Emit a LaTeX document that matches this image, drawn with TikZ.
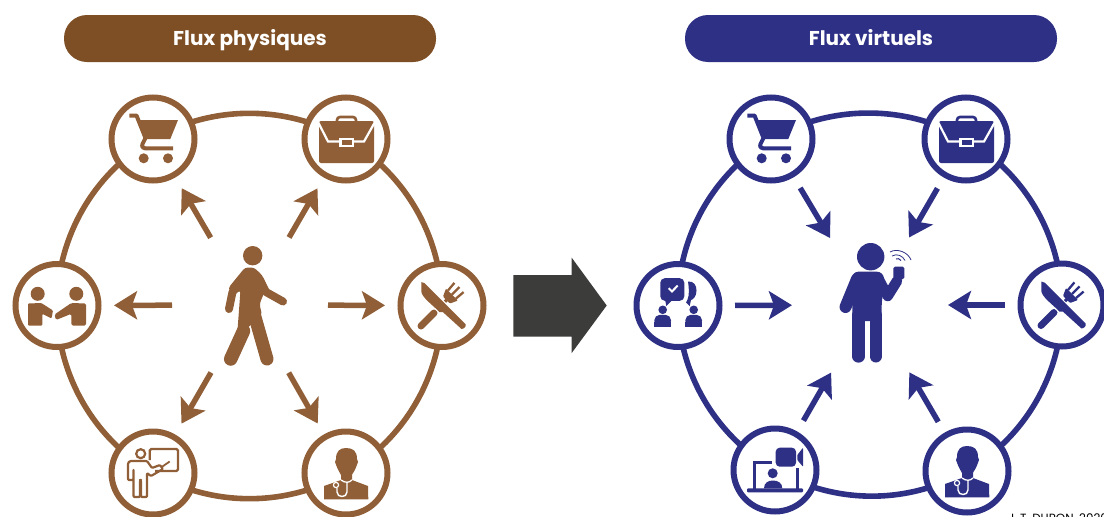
\documentclass[tikz,border=0pt]{standalone}
\usepackage{fontspec}
\setmainfont{Poppins}
\usetikzlibrary{arrows.meta,backgrounds}
\definecolor{hdrbrown}{HTML}{7E4E24}
\definecolor{ringbrown}{HTML}{915F37}
\definecolor{navy}{HTML}{2E3085}
\definecolor{darkarrow}{HTML}{3C3C3B}
\tikzset{
  x=1pt,y=-1pt,
  hub/.style={circle,draw=ic,fill=white,line width=6pt,minimum size=83pt,inner sep=0pt},
  ringarc/.style={draw=ic,line width=5.6pt,bend left=30,looseness=.91},
  outarrow/.style={draw=ic,fill=ic,line width=5.5pt,-{Stealth[length=23pt,width=28pt,inset=5pt]},shorten <=78pt,shorten >=57pt},
  inarrow/.style={draw=ic,fill=ic,line width=5.5pt,-{Stealth[length=23pt,width=28pt,inset=5pt]},shorten <=57pt,shorten >=78pt},
  pill/.style={rounded corners=23pt,minimum width=372pt,minimum height=47pt,inner sep=0pt,text=white,text height=19pt,text depth=4.5pt,font=\bfseries\fontsize{20}{24}\selectfont},
  icocart/.pic={
    \fill[ic] (-14,-19) -- (25,-19) -- (17.3,0) -- (-7,0) -- cycle;
    \draw[ic,line width=4pt,line join=round] (-23.7,-23.5) -- (-16.5,-23.5) -- (-7.5,-1) -- (-10.5,5) .. controls (-11.5,8) and (-10,9.3) .. (-8,9.3) -- (20,9.3);
    \fill[ic] (-9.3,19.3) circle[radius=5];
    \fill[ic] (15,19.3) circle[radius=5];
  },
  icocase/.pic={
    \draw[ic,line width=2.6pt,rounded corners=3pt] (-9,-16) -- (-9,-22) -- (10,-22) -- (10,-16);
    \fill[ic,rounded corners=2pt] (-27,-18) rectangle (28,24);
    \draw[white,line width=2.2pt] (-28,-17) -- (-18,2.5) -- (18,2.5) -- (29,-17);
    \fill[white] (-7,-1) rectangle (8,8);
    \fill[ic] (-4.5,1.2) rectangle (5.5,5.8);
  },
  icoshake/.pic={
    \fill[ic] (-19.3,-11.7) circle[radius=7];
    \fill[ic] (19.3,-11.7) circle[radius=7];
    \fill[ic,rounded corners=1pt] (-29,-2) -- (-15.7,-2.5) -- (-4,5) -- (-5.5,13) -- (-14.7,8.3) -- (-14.7,20) -- (-29,20) -- cycle;
    \fill[ic,rounded corners=1.5pt] (29,-2) -- (14.3,-2.5) -- (-2.5,9) -- (-1,14.5) -- (14.3,8.3) -- (14.3,20) -- (29,20) -- cycle;
  },
  icofork/.pic={
    \draw[ic,line width=7pt,line cap=round] (-21,20.5) -- (-8,7.5);
    \draw[ic,line width=3.2pt] (-5,4.5) -- (6,-7);
    \fill[ic,rounded corners=1pt] (4,-17) -- (16,-5) -- (8,-2) -- (1,-9) -- cycle;
    \draw[ic,line width=2.3pt] (6,-15) -- (12.4,-22.6);
    \draw[ic,line width=2.3pt] (10,-11) -- (17.5,-18.5);
    \draw[ic,line width=2.3pt] (14,-7) -- (21.6,-13.4);
    \path[draw=white,line width=2.4pt] (-20.7,-23.5) -- (-17.3,-22.3) -- (23.7,18.7) .. controls (24.5,21) and (21.5,24) .. (19.3,23.3) -- (1,6.7) -- (-2.3,6.7) .. controls (-10,-1) and (-20,-8) .. (-20.7,-14) -- cycle;
    \fill[ic] (-20.7,-23.5) -- (-17.3,-22.3) -- (23.7,18.7) .. controls (24.5,21) and (21.5,24) .. (19.3,23.3) -- (1,6.7) -- (-2.3,6.7) .. controls (-10,-1) and (-20,-8) .. (-20.7,-14) -- cycle;
  },
  icoteach/.pic={
    \draw[ic,line width=2.2pt,rounded corners=1.5pt] (-3.3,-13) -- (-3.3,-24) -- (25,-24) -- (25,-2) -- (2,-2);
    \draw[ic,line width=2.2pt] (-12.3,-19.3) circle[radius=4.5];
    \draw[ic,line width=2.2pt,line join=round,rounded corners=1pt] (-23,-12) -- (-6,-12) -- (-1,-5) -- (7,-8) -- (10,-4) -- (-2,3) -- (-6,0) -- (-6,24) -- (-12,24) -- (-12,7) -- (-13,7) -- (-13,24) -- (-19.5,24) -- (-19.5,-4) -- (-19.5,7) -- (-25,7) -- (-25,-10) -- cycle;
    \draw[ic,line width=1.8pt] (8,-5.5) -- (16.7,-11.5);
  },
  icodoc/.pic={
    \fill[ic] (-10,-14) .. controls (-10,-22) and (-6,-25) .. (0,-25) .. controls (7,-25) and (11,-22) .. (11,-14) -- (12,-11) -- (10.5,-7) .. controls (9,-2) and (6,1) .. (6,2) -- (6,7) -- (22,13) -- (22.3,26.3) -- (-22,26.3) -- (-22,13) -- (-5,7) -- (-5,2) .. controls (-6,0) and (-8,-3) .. (-9.5,-7) -- (-11,-11) -- cycle;
    \draw[white,line width=1.3pt] (-5,7) .. controls (-1,10) and (3,10) .. (6,7);
    \draw[white,line width=1.4pt] (1,9) -- (1,19) .. controls (1,25) and (-9,25) .. (-9,19) -- (-9,15);
    \draw[white,line width=1.2pt] (-10,12) circle[radius=2.6];
  },
  icochat/.pic={
    \fill[ic,rounded corners=4.5pt] (-17.7,-27.3) rectangle (6.3,-4.7);
    \fill[ic] (-13,-6) -- (-11.7,0.5) -- (-5,-6) -- cycle;
    \draw[white,line width=2pt] (-9.3,-17.3) -- (-6,-14) -- (-.3,-20);
    \fill[ic] (10,-24) .. controls (16,-24.5) and (18.5,-20) .. (18.5,-15) .. controls (18.5,-9) and (15,-6) .. (13,-5.5) -- (11.7,0.5) -- (8,-3) -- (9.5,-6) .. controls (11.5,-10) and (11,-18) .. cycle;
    \fill[ic] (-15.3,4.3) circle[radius=4.3];
    \fill[ic] (15.7,4.3) circle[radius=4.3];
    \fill[ic,rounded corners=5.5pt] (-23.7,21) -- (-23.7,9.3) -- (-7,9.3) -- (-7,21) -- cycle;
    \fill[ic] (-23.7,16) rectangle (-7,21);
    \fill[ic,rounded corners=5.5pt] (7.3,21) -- (7.3,9.3) -- (24,9.3) -- (24,21) -- cycle;
    \fill[ic] (7.3,16) rectangle (24,21);
  },
  icovideo/.pic={
    \fill[ic,rounded corners=4pt] (.7,-22.3) rectangle (21,-3.3);
    \fill[ic,rounded corners=.8pt] (22.3,-15) -- (28,-22.3) -- (28,-3.3) -- (22.3,-10) -- cycle;
    \fill[ic,rounded corners=1pt] (-28,18.3) rectangle (28,22.3);
    \draw[ic,line width=3pt,line cap=butt] (-20.5,18.5) -- (-20.5,-7.5) -- (-3.3,-7.5);
    \draw[ic,line width=3pt] (22,-1.7) -- (22,18.5);
    \fill[ic] (-2.3,3.3) circle[radius=5];
    \fill[ic] (-11,18.3) .. controls (-11,13) and (-7,10.5) .. (-2,10.5) .. controls (3,10.5) and (7.3,13) .. (7.3,18.3) -- cycle;
  },
  icowalk/.pic={
    \fill[ic] (2.7,-49.3) circle[radius=9.7];
    \fill[ic,rounded corners=3pt] (-5,-37.5) -- (4,-37.5) -- (12,-30) -- (17,-19) -- (9.5,-1) -- (12,10) -- (-13,32) -- (-9.5,-15) -- (-18,-8) -- (-21.7,-17) -- cycle;
    \draw[ic,line width=8pt,line cap=round] (-17.5,-13) -- (-21,4);
    \draw[ic,line width=8pt,line cap=round,line join=round] (10,-25) -- (16,-13) -- (33,-3.5);
    \draw[ic,line width=13pt,line cap=round] (3,5) -- (17,54);
    \draw[ic,line width=13.5pt,line cap=round] (-6.5,26) -- (-19.3,54);
    \draw[ic,line width=9pt] (-4,10) -- (-6,26);
  },
  icophone/.pic={
    \fill[ic] (0.7,-48.3) circle[radius=13.7];
    \fill[ic,rounded corners=6pt] (-17.7,-33.3) -- (13,-33.3) -- (15,-20) -- (11.7,-5) -- (11.7,16) -- (-17.7,16) -- cycle;
    \draw[ic,line width=12pt,line cap=round] (-13,-26) -- (-24.5,2);
    \draw[ic,line width=12.3pt,line cap=round] (-11.5,10) -- (-11.5,51.5);
    \draw[ic,line width=12pt,line cap=round] (5.7,10) -- (5.7,51.5);
    \draw[ic,line width=10.5pt,line cap=round,line join=round] (9,-25) -- (17.7,-9) -- (27,-24);
    \fill[ic,rounded corners=1.5pt] (23.3,-38.3) rectangle (34.3,-26);
    \draw[ic,line width=.8pt] (20,-53) .. controls (27,-57) and (38,-53) .. (41,-45);
    \draw[ic,line width=.8pt] (22,-49) .. controls (27,-52) and (33,-49) .. (35,-44.5);
    \draw[ic,line width=1pt] (26,-46) .. controls (27,-46.8) and (30,-46.5) .. (31,-44.5);
  },
}
\begin{document}
\begin{tikzpicture}
\useasboundingbox (0,0) rectangle (1104,517);
\node[pill,fill=hdrbrown] (hdrA) at (250,38.5) {Flux physiques};
\node[pill,fill=navy] (hdrB) at (871,38.5) {Flux virtuels};
\fill[darkarrow] (513.3,275) -- (571.7,275) -- (571.7,257.7) -- (606.7,305.5) -- (571.7,353) -- (571.7,336.7) -- (513.3,336.7) -- cycle;
% left diagram
\begin{scope}
\colorlet{ic}{ringbrown}
\coordinate (walker) at (250,305);
\node[hub] (lcart) at (153,139) {};
\node[hub] (lcase) at (346,139) {};
\node[hub] (lshake) at (57,305.5) {};
\node[hub] (lfork) at (442,305.5) {};
\node[hub] (lteach) at (153,473) {};
\node[hub] (ldoc) at (346,473) {};
\begin{scope}[on background layer]
\path[ringarc] (lshake.center) to (lcart.center);
\path[ringarc] (lcart.center) to (lcase.center);
\path[ringarc] (lcase.center) to (lfork.center);
\path[ringarc] (lfork.center) to (ldoc.center);
\path[ringarc] (ldoc.center) to (lteach.center);
\path[ringarc] (lteach.center) to (lshake.center);
\end{scope}
\foreach \t in {lcart,lcase,lshake,lfork,lteach,ldoc}
  \draw[outarrow] (walker) -- (\t.center);
\pic at (lcart) {icocart};
\pic at (lcase) {icocase};
\pic at (lshake) {icoshake};
\pic at (lfork) {icofork};
\pic at (lteach) {icoteach};
\pic at (ldoc) {icodoc};
\pic at (walker) {icowalk};
\end{scope}
% right diagram
\begin{scope}
\colorlet{ic}{navy}
\coordinate (phone) at (870,305);
\node[hub] (rcart) at (771,139) {};
\node[hub] (rcase) at (966,139) {};
\node[hub] (rchat) at (678,305.5) {};
\node[hub] (rfork) at (1062,305) {};
\node[hub] (rvideo) at (775,470) {};
\node[hub] (rdoc) at (967,471) {};
\begin{scope}[on background layer]
\path[ringarc] (rchat.center) to (rcart.center);
\path[ringarc] (rcart.center) to (rcase.center);
\path[ringarc] (rcase.center) to (rfork.center);
\path[ringarc] (rfork.center) to (rdoc.center);
\path[ringarc] (rdoc.center) to (rvideo.center);
\path[ringarc] (rvideo.center) to (rchat.center);
\end{scope}
\foreach \t in {rcart,rcase,rchat,rfork,rvideo,rdoc}
  \draw[inarrow] (\t.center) -- (phone);
\pic at (rcart) {icocart};
\pic at (rcase) {icocase};
\pic at (rchat) {icochat};
\pic at (rfork) {icofork};
\pic at (rvideo) {icovideo};
\pic at (rdoc) {icodoc};
\pic at (phone) {icophone};
\end{scope}
\node[anchor=north west,inner sep=0pt,font=\fontsize{11.9}{14}\selectfont,text=black] (credit) at (1008,513.5) {J. T. DURON, 2020};
\end{tikzpicture}
\end{document}
